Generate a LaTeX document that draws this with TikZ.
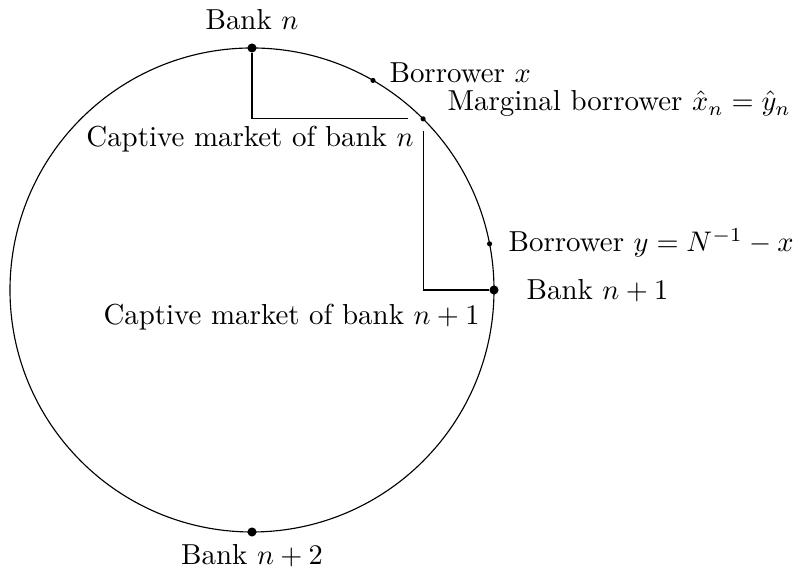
\documentclass[tikz,border=0pt]{standalone}
\usetikzlibrary{positioning,calc}
\tikzset{
  bank/.style={circle, fill, inner sep=0pt, minimum size=3.2pt},
  borrower/.style={circle, fill, inner sep=0pt, minimum size=1.8pt},
  lbl/.style={inner sep=0pt, font=\fontsize{10.2pt}{12pt}\selectfont},
}
\begin{document}
\begin{tikzpicture}
    \useasboundingbox (-3.124,-3.558) rectangle (6.744,3.595);
    \draw (0,0) circle (3);

    % banks and borrowers on the circle
    \node[bank] (bn) at (90:3) {};
    \node[bank] (bn1) at (0:3) {};
    \node[bank] (bn2) at (270:3) {};
    \node[borrower] (bx) at (60:3) {};
    \node[borrower] (mb) at (45:3) {};
    \node[borrower] (by) at (11:3) {};

    \node[lbl, anchor=base] at ($(bn)+(0,0.223)$) {Bank $n$};
    \node[lbl, anchor=base] at ($(bn2)+(0,-0.409)$) {Bank $n+2$};
    \node[lbl, anchor=base west] at ($(bn1)+(0.397,-0.124)$) {Bank $n+1$};
    \node[lbl, anchor=base west] at ($(bx)+(0.198,-0.032)$) {Borrower $x$};
    \node[lbl, anchor=base west] at ($(mb)+(0.296,0.098)$) {Marginal borrower $\hat{x}_n = \hat{y}_n$};
    \node[lbl, anchor=base west] at ($(by)+(0.229,-0.101)$) {Borrower $y = N^{-1} - x$};

    % captive markets
    \draw[shorten >=0.15cm] (bn) |- (mb);
    \draw[shorten <=0.11cm] (mb) |- (bn1);
    \node[lbl, anchor=base] at (-0.025,1.773) {Captive market of bank $n$};
    \node[lbl, anchor=base] at (0.490,-0.434) {Captive market of bank $n+1$};
\end{tikzpicture}
\end{document}
